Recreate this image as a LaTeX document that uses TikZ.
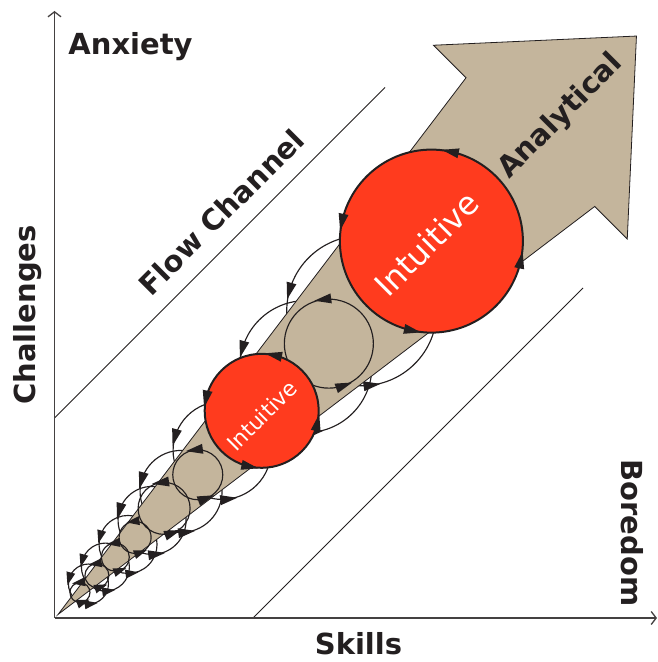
\documentclass[tikz,border=0pt]{standalone}
\usepackage{fontspec}
\setmainfont{DejaVu Sans}
\usetikzlibrary{arrows.meta,decorations.markings}
\definecolor{beige}{HTML}{C4B59C}
\definecolor{flowred}{HTML}{FF3B1E}
\definecolor{ink}{HTML}{231F20}
\tikzset{
  loopline/.style={draw=ink, line width=1.15pt},
  redloop/.style={fill=flowred, draw=ink, line width=2pt},
  two marks/.style n args={4}{postaction={decorate}, decoration={markings,
     mark=at position #1 with {\fill[ink] (#3,0pt) -- (-#3,#4) -- (-#3,-#4) -- cycle;},
     mark=at position #2 with {\fill[ink] (#3,0pt) -- (-#3,#4) -- (-#3,-#4) -- cycle;}}},
  four marks/.style={postaction={decorate}, decoration={markings,
     mark=between positions 0.092 and 0.9 step 0.25 with {\fill[ink] (8.5pt,0pt) -- (-8.5pt,5pt) -- (-8.5pt,-5pt) -- cycle;}}},
  lbl/.style={font=\bfseries\fontsize{29}{29}\selectfont, text=ink, inner sep=0pt},
  intu/.style={font=\fontsize{#1}{#1}\selectfont, text=white, inner sep=0pt, rotate=45},
  axisline/.style={draw=ink!85, line width=1.3pt, -{Straight Barb[length=5pt,width=13pt]}},
  channel/.style={draw=ink, line width=0.9pt},
  wedge/.style={fill=beige, draw=ink, line width=0.8pt, line join=miter},
}
\begin{document}
\begin{tikzpicture}[x=1pt,y=1pt]
\useasboundingbox (0,0) rectangle (658,662);
\coordinate (O) at (54.5,44);
\coordinate (ytop) at (54.5,651);
\coordinate (xend) at (657,44);
\coordinate (c1a) at (54.5,244);
\coordinate (c1b) at (385,574.5);
\coordinate (c2a) at (253,44);
\coordinate (c2b) at (583,374);
\draw[channel] (c1a) -- (c1b);
\draw[channel] (c2a) -- (c2b);
\begin{scope}[shift={(O)}, rotate=45]
  % loops behind the arrow
  \foreach \d/\r in {434.5/75, 355.5/66, 237/49, 179/41, 138/34}
    \path[loopline, two marks={0.333}{0.647}{8.5pt}{5pt}] (\d,0) circle[radius=\r];
  \foreach \d/\r in {104/29, 72/24, 48/20}
    \path[loopline, two marks={0.333}{0.647}{6.5pt}{4.5pt}] (\d,0) circle[radius=\r];
  % the arrow
  \path[wedge] (5,0) -- (673,91) -- (673,137) -- (823,0) -- (673,-137) -- (673,-91) -- cycle;
  % loops in front of the arrow
  \foreach \d/\r in {388/44.5, 202.6/25, 155/26}
    \path[loopline, two marks={0.147}{0.681}{8.5pt}{5pt}] (\d,0) circle[radius=\r];
  \foreach \d/\r in {114/16, 86/14, 60/12, 36/10}
    \path[loopline, two marks={0.147}{0.681}{6.5pt}{4.5pt}] (\d,0) circle[radius=\r];
  % red loops
  \path[redloop, four marks] (533,0) circle[radius=91.5];
  \path[redloop, four marks] (293,0) circle[radius=57];
\end{scope}
\draw[axisline] (O) -- (ytop);
\draw[axisline] (O) -- (xend);
\node[lbl, anchor=base] (anx) at (130.5,607) {Anxiety};
\node[lbl, anchor=base] (skl) at (358.5,7) {Skills};
\node[lbl, anchor=base, rotate=90] (chl) at (35.5,347) {Challenges};
\node[lbl, anchor=base, rotate=-90] (bor) at (621.7,129) {Boredom};
\node[lbl, rotate=45] (flow) at (221.5,450) {Flow Channel};
\node[lbl, rotate=45] (ana) at (560.8,545.3) {Analytical};
\node[intu=32] (int1) at (426.7,418) {Intuitive};
\node[intu=21.6] (int2) at (261.7,246.2) {Intuitive};
\end{tikzpicture}
\end{document}
